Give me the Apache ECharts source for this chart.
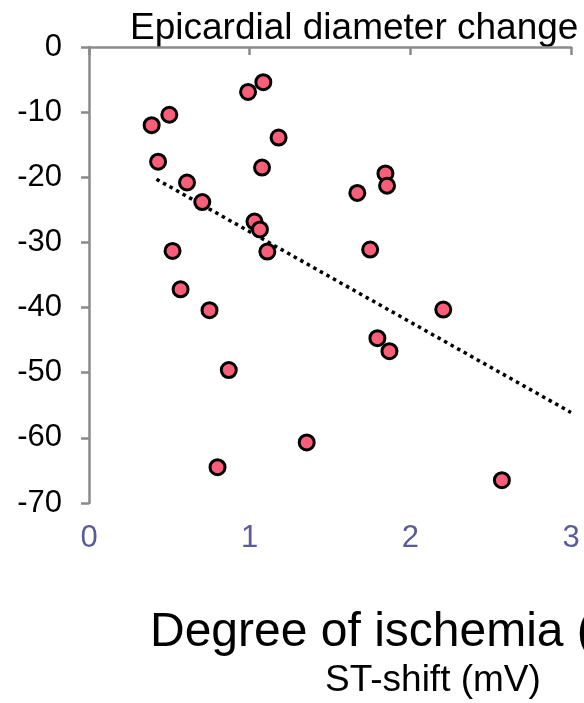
<!DOCTYPE html>
<html>
<head>
<meta charset="utf-8">
<script src="https://cdn.jsdelivr.net/npm/echarts@6/dist/echarts.min.js"></script>
<style>
  html, body { margin: 0; padding: 0; background: #fff; }
  #chart { width: 584px; height: 703px; }
</style>
</head>
<body>
<div id="chart"></div>
<script>
// ST-shift (mV) for each case
const stShift = [0.39, 0.50, 0.43, 0.61, 0.705, 0.99, 1.085, 1.18, 1.077, 1.03, 1.064, 0.52, 1.11,
                 0.57, 0.75, 0.87, 0.80, 1.355, 1.845, 1.855, 1.67, 1.75, 2.205, 1.795, 1.87, 2.57];
// Epicardial diameter change (%) for each case
const diameterChange = [-12.0, -10.4, -17.6, -20.8, -23.8, -6.9, -5.4, -13.9, -18.5, -26.8, -28.0, -31.3, -31.4,
                        -37.2, -40.4, -49.6, -64.5, -60.7, -19.4, -21.3, -22.4, -31.1, -40.3, -44.7, -46.7, -66.5];
// Linear trend line end points
const trendX = [0.42, 3.0];
const trendY = [-20.3, -56.1];

const xTicks = [0, 3, 1];   // min, max, interval
const yTicks = [-70, 0, 10];

const points = stShift.map((x, i) => [x, diameterChange[i]]);
const trend = trendX.map((x, i) => [x, trendY[i]]);

const FONT = '"Liberation Sans", Arial, sans-serif';
const chart = echarts.init(document.getElementById('chart'), null, { renderer: 'canvas' });

chart.setOption({
  animation: false,
  backgroundColor: '#ffffff',
  grid: { left: 89, right: 13, top: 47, bottom: 200, containLabel: false },
  xAxis: {
    type: 'value',
    min: xTicks[0], max: xTicks[1], interval: xTicks[2],
    axisLine: { show: true, lineStyle: { color: '#8a8a8a', width: 2.5 } },
    axisTick: { show: true, length: 8, inside: false, lineStyle: { color: '#8a8a8a', width: 2.5 } },
    axisLabel: { fontSize: 31, color: '#5b5b98', margin: 20, fontFamily: FONT },
    splitLine: { show: false }
  },
  yAxis: {
    type: 'value',
    min: yTicks[0], max: yTicks[1], interval: yTicks[2],
    axisLine: { show: true, lineStyle: { color: '#8a8a8a', width: 2.5 } },
    axisTick: { show: true, length: 8, inside: false, lineStyle: { color: '#8a8a8a', width: 2.5 } },
    axisLabel: { fontSize: 31, color: '#000000', margin: 27, fontFamily: FONT },
    splitLine: { show: false }
  },
  graphic: [
    {
      type: 'text', left: 130, top: 10,
      style: { text: 'Epicardial diameter change', fontSize: 37, fill: '#000', fontFamily: FONT }
    },
    {
      type: 'text', left: 150, top: 609,
      style: { text: 'Degree of ischemia (', fontSize: 48, fill: '#000', fontFamily: FONT }
    },
    {
      type: 'text', left: 325, top: 662,
      style: { text: 'ST-shift (mV)', fontSize: 37, fill: '#000', fontFamily: FONT }
    }
  ],
  series: [
    {
      type: 'line',
      data: trend,
      symbol: 'none',
      z: 2,
      lineStyle: { color: '#000', width: 3.5, type: [3.5, 4], cap: 'butt' }
    },
    {
      type: 'scatter',
      data: points,
      symbol: 'circle',
      symbolSize: 15,
      z: 3,
      itemStyle: { color: '#fb5e78', borderColor: '#000', borderWidth: 3, opacity: 1 }
    }
  ]
});
</script>
</body>
</html>
